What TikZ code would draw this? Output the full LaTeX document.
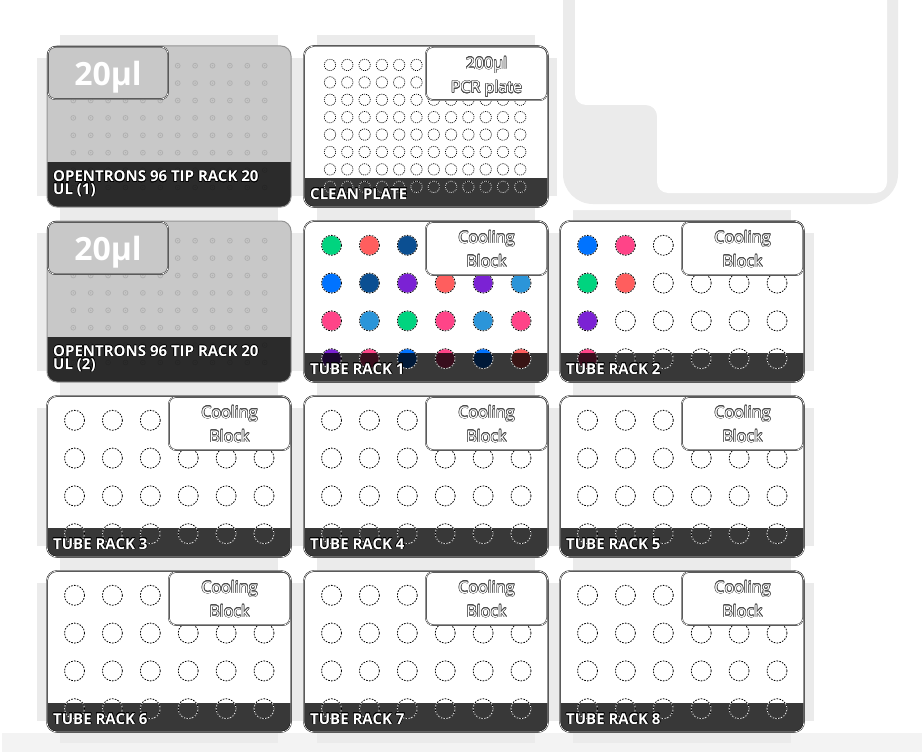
\documentclass[tikz,border=0pt]{standalone}
\usepackage{fontspec}
\setmainfont{Open Sans}
\usepackage{contour}
\contourlength{0.5pt}
\usepackage{tikz}

\definecolor{slotgray}{HTML}{EBEBEB}
\definecolor{bandgray}{HTML}{F3F3F3}
\definecolor{tipgray}{HTML}{C8C8C8}
\definecolor{tipring}{HTML}{B0B0B0}
\definecolor{tipedge}{HTML}{949494}
\definecolor{wgreen}{HTML}{00D47F}
\definecolor{wcoral}{HTML}{FF5E5E}
\definecolor{wnavy}{HTML}{0B4F92}
\definecolor{wblue}{HTML}{0073FF}
\definecolor{wpurple}{HTML}{7B22D4}
\definecolor{wsky}{HTML}{2B95D9}
\definecolor{wpink}{HTML}{FF4488}

\tikzset{
  ware/.style={draw=black, line width=.45pt, double=white, double distance=.6pt, rounded corners=10pt},
  tagbox/.style={draw=black, line width=.45pt, double=white, double distance=.6pt, rounded corners=7pt},
  tubering/.style={draw=black, line width=.8pt, dash pattern=on 1.6pt off 1.3pt},
  platering/.style={draw=black, line width=.65pt, dash pattern=on 1.1pt off 1pt},
  barfill/.style={fill=black, fill opacity=.78},
  bartext/.style={anchor=base west, text=white, inner sep=0pt, align=left,
    font=\bfseries\fontsize{15}{11}\selectfont},
  tagtext/.style={anchor=base, text=white, inner sep=0pt, align=center,
    font=\fontsize{16}{24}\selectfont},
  voltext/.style={anchor=base, text=white, inner sep=0pt,
    font=\bfseries\fontsize{32}{32}\selectfont}
}

% slot background (x0, y0 of the labware)
\newcommand{\deckslot}[2]{%
  \fill[slotgray] (#1+13,#2-11) rectangle (#1+231,#2+172);
  \fill[slotgray] (#1-10,#2+12) rectangle (#1+254,#2+150);}

\newcommand{\hollow}[1]{\contour{black!70}{#1}}

% name, x0, y0, label line 1, label line 2
\newcommand{\tiprack}[5]{%
  \fill[tipgray, rounded corners=10pt] (#2,#3) rectangle ++(244,161);
  \foreach \col in {0,...,11}
    \foreach \row in {0,...,7} {
      \draw[tipring, line width=.8pt] (#2+26.3+17.4*\col, #3+19.7+17.4*\row) circle (2.4pt);
      \fill[tipring] (#2+26.3+17.4*\col, #3+19.7+17.4*\row) circle (.8pt);
    }
  \begin{scope}
    \clip[rounded corners=10pt] (#2,#3) rectangle ++(244,161);
    \fill[barfill] (#2,#3+116) rectangle ++(244,45);
  \end{scope}
  \draw[tipedge, line width=1pt, rounded corners=10pt] (#2,#3) rectangle ++(244,161);
  \draw[tagbox, fill=tipgray] (#2+1,#3+1) rectangle (#2+121,#3+53);
  \node[voltext] (#1-vol) at (#2+61,#3+39) {20µl};
  \node[bartext] (#1-name) at (#2+6,#3+148) {\contour{black}{#4}\\\contour{black}{#5}};
}

% name, x0, y0, label
\newcommand{\wellplate}[4]{%
  \fill[white, rounded corners=10pt] (#2,#3) rectangle ++(244,161);
  \begin{scope}
    \clip[rounded corners=10pt] (#2,#3) rectangle ++(244,161);
    \fill[barfill] (#2,#3+132) rectangle ++(244,29);
  \end{scope}
  \foreach \col in {0,...,11}
    \foreach \row in {0,...,7} {
      \draw[white, line width=.65pt] (#2+26+17.3*\col, #3+19+17.4*\row) circle (5.7pt);
      \draw[platering] (#2+26+17.3*\col, #3+19+17.4*\row) circle (5.7pt);
    }
  \draw[tagbox, fill=white] (#2+122,#3+1) rectangle (#2+243,#3+54);
  \node[tagtext] (#1-tag) at (#2+182.5,#3+47) {\hollow{200µl}\\\hollow{PCR plate}};
  \draw[ware] (#2,#3) rectangle ++(244,161);
  \node[bartext] (#1-name) at (#2+6,#3+153) {\contour{black}{#4}};
}

% name, x0, y0, label, 24 well colours (row by row)
\newcommand{\tuberack}[5]{%
  \fill[white, rounded corners=10pt] (#2,#3) rectangle ++(244,161);
  \foreach \c [count=\i from 0] in {#5} {
    \pgfmathtruncatemacro\row{int(\i/6)}
    \pgfmathtruncatemacro\col{mod(\i,6)}
    \fill[\c] (#2+27.5+37.9*\col, #3+24.3+37.8*\row) circle (10pt);
  }
  \begin{scope}
    \clip[rounded corners=10pt] (#2,#3) rectangle ++(244,161);
    \fill[barfill] (#2,#3+132) rectangle ++(244,29);
  \end{scope}
  \foreach \col in {0,...,5}
    \foreach \row in {0,...,3} {
      \draw[white, line width=.8pt] (#2+27.5+37.9*\col, #3+24.3+37.8*\row) circle (10pt);
      \draw[tubering] (#2+27.5+37.9*\col, #3+24.3+37.8*\row) circle (10pt);
    }
  \draw[tagbox, fill=white] (#2+122,#3+1) rectangle (#2+243,#3+54);
  \node[tagtext] (#1-tag) at (#2+182.5,#3+46) {\hollow{Cooling}\\\hollow{Block}};
  \draw[ware] (#2,#3) rectangle ++(244,161);
  \node[bartext] (#1-name) at (#2+6,#3+153) {\contour{black}{#4}};
}

\begin{document}
\begin{tikzpicture}[x=1pt, y=-1pt]
  \useasboundingbox (0,0) rectangle (922,752);
  %\draw [help lines, step=50] (0,0) grid (922,752);

  % deck
  \fill[bandgray] (2,733) rectangle (922,752);
  \foreach \sx in {47,304,560} {
    \foreach \sy in {46,221,396,571} {
      \deckslot{\sx}{\sy}
    }
  }

  % trash
  \fill[white, rounded corners=14pt] (557,-30) rectangle (904,210);
  \fill[slotgray, rounded corners=30pt] (563,-30) rectangle (898,204);
  \fill[white, rounded corners=11pt] (575,-30) -- (575,105) -- (657,105) -- (657,193)
    -- (887,193) -- (887,-30) -- cycle;

  % labware
  \tiprack{tips1}{47}{46}{OPENTRONS 96 TIP RACK 20}{UL (1)}
  \tiprack{tips2}{47}{221}{OPENTRONS 96 TIP RACK 20}{UL (2)}
  \wellplate{plate}{304}{46}{CLEAN PLATE}
  \tuberack{rack1}{304}{221}{TUBE RACK 1}{wgreen,wcoral,wnavy,white,white,white,
    wblue,wnavy,wpurple,wcoral,wpurple,wsky,
    wpink,wsky,wgreen,wpink,wsky,wpink,
    wpurple,wpink,wblue,wpink,wblue,wcoral}
  \tuberack{rack2}{560}{221}{TUBE RACK 2}{wblue,wpink,white,white,white,white,
    wgreen,wcoral,white,white,white,white,
    wpurple,white,white,white,white,white,
    wpink,white,white,white,white,white}
  \tuberack{rack3}{47}{396}{TUBE RACK 3}{white,white,white,white,white,white,white,white,white,white,white,white,white,white,white,white,white,white,white,white,white,white,white,white}
  \tuberack{rack4}{304}{396}{TUBE RACK 4}{white,white,white,white,white,white,white,white,white,white,white,white,white,white,white,white,white,white,white,white,white,white,white,white}
  \tuberack{rack5}{560}{396}{TUBE RACK 5}{white,white,white,white,white,white,white,white,white,white,white,white,white,white,white,white,white,white,white,white,white,white,white,white}
  \tuberack{rack6}{47}{571}{TUBE RACK 6}{white,white,white,white,white,white,white,white,white,white,white,white,white,white,white,white,white,white,white,white,white,white,white,white}
  \tuberack{rack7}{304}{571}{TUBE RACK 7}{white,white,white,white,white,white,white,white,white,white,white,white,white,white,white,white,white,white,white,white,white,white,white,white}
  \tuberack{rack8}{560}{571}{TUBE RACK 8}{white,white,white,white,white,white,white,white,white,white,white,white,white,white,white,white,white,white,white,white,white,white,white,white}
\end{tikzpicture}
\end{document}
